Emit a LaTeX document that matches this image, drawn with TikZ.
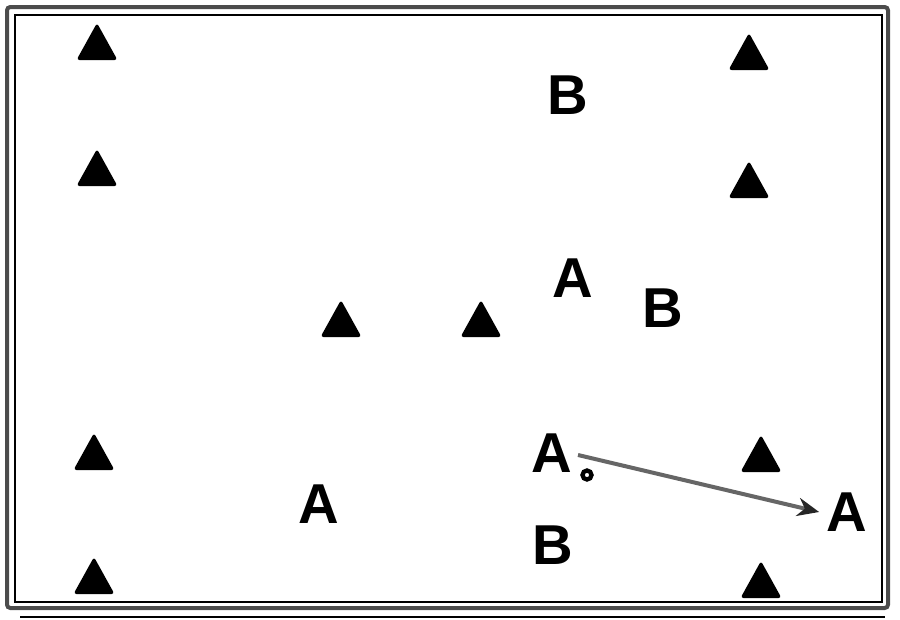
\documentclass[tikz,border=0pt]{standalone}
\usepackage{fontspec}
\setmainfont{Liberation Sans}
\usetikzlibrary{arrows.meta}

\begin{document}
\begin{tikzpicture}[x=0.3mm,y=-0.3mm,
        cone/.pic={\fill[black,rounded corners=0.9mm] (-20.5,18) -- (0,-19) -- (20.5,18) -- cycle;},
        letter/.style={inner sep=0pt,font=\fontsize{48}{48}\bfseries\selectfont}]
        \useasboundingbox (0,0) rectangle (900,620);
        % frame
        \draw [black!70,line width=1.2mm,rounded corners=1mm] (7,7) rectangle (888,608);
        \draw [black,line width=0.45mm] (15,15) rectangle (882,602);
        \draw [black,line width=0.4mm] (20,617) -- (885,617);
        % cones
        \pic at (97,42) {cone};
        \pic at (97,168) {cone};
        \pic at (341,319) {cone};
        \pic at (481,319) {cone};
        \pic at (94,452) {cone};
        \pic at (94,576) {cone};
        \pic at (749,52) {cone};
        \pic at (749,180) {cone};
        \pic at (761,454) {cone};
        \pic at (761,580) {cone};
        % players
        \node [letter] (b1) at (568,95) {B};
        \node [letter] (a1) at (573,278) {A};
        \node [letter] (b2) at (663,308) {B};
        \node [letter] (a2) at (552,453) {A};
        \node [letter] (a3) at (319,504) {A};
        \node [letter] (b3) at (553,545) {B};
        \node [letter] (a4) at (847,512) {A};
        % ball
        \draw [black,line width=1.3mm] (587,475) circle (1.35mm);
        % pass
        \coordinate (p0) at (578,455);
        \draw [black!60,line width=1.2mm,-{Stealth[length=6.5mm,width=5.5mm,color=black!85]}] (p0) -- ([xshift=-2.2mm]a4.west);
\end{tikzpicture}
\end{document}
